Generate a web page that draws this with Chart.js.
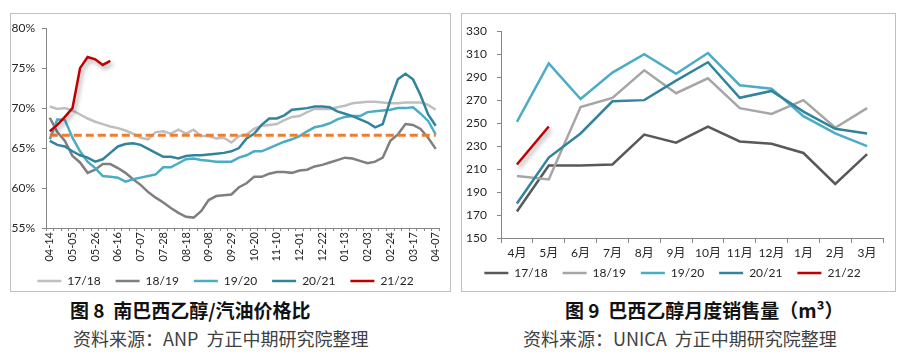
<!DOCTYPE html>
<html>
<head>
<meta charset="utf-8">
<script src="https://cdn.jsdelivr.net/npm/chart.js@4.4.1/dist/chart.umd.min.js"></script>
<style>
  body { margin: 0; background: #fff; width: 900px; height: 358px; position: relative; overflow: hidden; }
  .box { position: absolute; border: 1px solid #bfbfbf; box-sizing: border-box; }
  #boxL { left: 10px; top: 13px; width: 441px; height: 279px; }
  #boxR { left: 461px; top: 13px; width: 435px; height: 279px; }
  .box canvas { display: block; }
  .cap { position: absolute; font-family: 'Noto Sans CJK SC', sans-serif; font-weight: bold; font-size: 19px; line-height: 20px; color: #111; white-space: nowrap; }
  .src { position: absolute; font-family: 'Noto Sans CJK SC', sans-serif; font-size: 18px; line-height: 20px; color: #404040; white-space: nowrap; }
</style>
</head>
<body>
<div class="box" id="boxL"><canvas id="ratioChart" width="439" height="277"></canvas></div>
<div class="box" id="boxR"><canvas id="salesChart" width="433" height="277"></canvas></div>
<div class="cap" style="left:70px; top:300px;">图 8&nbsp; 南巴西乙醇/汽油价格比</div>
<div class="src" style="left:73px; top:328px;">资料来源：ANP&nbsp; 方正中期研究院整理</div>
<div class="cap" style="left:565px; top:300px;">图 9&nbsp; 巴西乙醇月度销售量（m³）</div>
<div class="src" style="left:523px; top:328px;">资料来源：UNICA&nbsp; 方正中期研究院整理</div>

<script>
// Weekly ethanol/gasoline price ratio, south Brazil (%)
const weeks = [
  '04-14','04-21','04-28','05-05','05-12','05-19','05-26','06-02','06-09','06-16','06-23','06-30','07-07',
  '07-14','07-21','07-28','08-04','08-11','08-18','08-25','09-01','09-08','09-15','09-22','09-29','10-06',
  '10-13','10-20','10-27','11-03','11-10','11-17','11-24','12-01','12-08','12-15','12-22','12-29','01-06',
  '01-13','01-20','01-27','02-03','02-10','02-17','02-24','03-03','03-10','03-17','03-24','03-31','04-07'
];
const ratio1718 = [
  70.2, 69.9, 70.0, 69.7, 69.2, 68.7, 68.3, 68.0, 67.7, 67.5, 67.2, 66.8, 66.3,
  66.1, 67.0, 67.1, 66.8, 67.3, 66.8, 67.3, 66.5, 66.5, 66.2, 66.3, 65.7, 66.5,
  66.7, 67.4, 67.8, 67.9, 68.0, 68.5, 68.9, 69.0, 69.5, 69.9, 69.9, 69.9, 70.1,
  70.3, 70.6, 70.7, 70.8, 70.8, 70.7, 70.6, 70.6, 70.7, 70.7, 70.7, 70.4, 69.8
];
const ratio1819 = [
  68.8, 67.0, 65.9, 64.0, 63.2, 61.9, 62.3, 63.0, 63.0, 62.5, 61.9, 61.1, 60.4,
  59.5, 58.8, 58.2, 57.5, 56.9, 56.4, 56.3, 57.1, 58.5, 59.0, 59.1, 59.2, 60.1,
  60.6, 61.4, 61.4, 61.8, 62.0, 62.0, 61.9, 62.2, 62.3, 62.7, 62.9, 63.2, 63.5,
  63.8, 63.7, 63.4, 63.1, 63.3, 63.8, 65.9, 66.7, 68.0, 67.9, 67.4, 66.3, 64.9
];
const ratio1920 = [
  66.1, 68.6, 68.5, 66.3, 64.6, 63.3, 62.5, 61.5, 61.4, 61.3, 60.8, 61.1, 61.3,
  61.5, 61.7, 62.6, 62.6, 63.1, 63.6, 63.7, 63.5, 63.4, 63.3, 63.3, 63.3, 63.8,
  64.1, 64.6, 64.6, 65.0, 65.4, 65.8, 66.1, 66.5, 67.1, 67.6, 67.8, 68.1, 68.6,
  68.9, 69.0, 69.0, 69.5, 69.6, 69.7, 69.8, 70.0, 70.0, 70.1, 69.3, 68.4, 66.7
];
const ratio2021 = [
  65.9, 65.4, 65.2, 64.6, 64.1, 63.8, 63.3, 63.6, 64.4, 65.2, 65.5, 65.6, 65.4,
  64.9, 64.4, 63.9, 63.9, 63.7, 64.0, 64.1, 64.1, 64.2, 64.3, 64.4, 64.6, 65.0,
  66.2, 66.8, 67.9, 68.7, 68.7, 69.1, 69.8, 69.9, 70.0, 70.2, 70.2, 70.1, 69.6,
  69.3, 69.0, 68.6, 68.2, 67.6, 68.0, 71.0, 73.6, 74.3, 73.6, 71.6, 69.2, 67.8
];
const ratio2122 = [67.1, 67.9, 68.9, 70.0, 75.0, 76.4, 76.1, 75.4, 75.9];
const parityLine = 66.6;

// Monthly ethanol sales (m³)
const months = ['4月','5月','6月','7月','8月','9月','10月','11月','12月','1月','2月','3月'];
const sales1718 = [173, 213, 213, 214, 240, 233, 247, 234, 232, 224, 197, 223];
const sales1819 = [204, 201, 264, 272, 296, 276, 289, 263, 258, 270, 246, 263];
const sales1920 = [251, 302, 271, 294, 310, 293, 311, 283, 280, 256, 241, 230];
const sales2021 = [180, 220, 241, 269, 270, 287, 303, 272, 278, 260, 245, 241];
const sales2122 = [214, 247];

Chart.defaults.font.family = "Lato, 'Noto Sans CJK SC', sans-serif";
Chart.defaults.font.size = 12;
Chart.defaults.color = '#262626';
Chart.defaults.animation = false;

// soft drop shadow under the current season line (Excel shadow effect)
const lineShadow = {
  id: 'lineShadow',
  beforeDatasetDraw(chart, args) {
    if (!chart.data.datasets[args.index].shadow) return;
    const ctx = chart.ctx;
    ctx.save();
    ctx.shadowColor = 'rgba(0,0,0,0.35)';
    ctx.shadowBlur = 4;
    ctx.shadowOffsetX = 2;
    ctx.shadowOffsetY = 3;
  },
  afterDatasetDraw(chart, args) {
    if (chart.data.datasets[args.index].shadow) chart.ctx.restore();
  }
};

function line(label, data, color, order, extra) {
  return Object.assign({
    label: label,
    data: data,
    borderColor: color,
    backgroundColor: color,
    borderWidth: 2.5,
    pointRadius: 0,
    tension: 0,
    order: order
  }, extra || {});
}

// fixed axis band height; labels may run past it, so don't clip them
function fixHeight(h) {
  return s => { s.height = h; s._computeLabelArea = () => undefined; };
}

const legendOpts = {
  position: 'bottom',
  labels: {
    usePointStyle: true,
    pointStyle: 'line',
    pointStyleWidth: 24,
    padding: 15,
    color: '#262626',
    font: { size: 12 },
    filter: item => item.text !== '',
    sort: (a, b) => a.datasetIndex - b.datasetIndex
  }
};

// Figure 8: price ratio
const ratioCtx = document.getElementById('ratioChart').getContext('2d');
const ratioChart = new Chart(ratioCtx, {
  type: 'line',
  data: {
    labels: weeks,
    datasets: [
      line('17/18', ratio1718, '#bfbfbf', 5),
      line('18/19', ratio1819, '#7f7f7f', 4),
      line('19/20', ratio1920, '#4bacc6', 3),
      line('20/21', ratio2021, '#31849b', 2),
      line('21/22', ratio2122, '#c00000', 0, { shadow: true }),
      line('', [{ x: weeks[0], y: parityLine }, { x: weeks[weeks.length - 1], y: parityLine }],
        '#ed7d31', 1, { borderWidth: 3, borderDash: [8, 4] })
    ]
  },
  options: {
    responsive: false,
    layout: { padding: { top: 12, right: 10, bottom: -6, left: 0 } },
    plugins: { legend: legendOpts, tooltip: { enabled: false } },
    scales: {
      x: {
        offset: true,
        grid: { display: true, drawOnChartArea: false, drawTicks: true, tickLength: 3, color: '#868686', offset: true },
        border: { display: true, color: '#868686' },
        ticks: {
          autoSkip: false, minRotation: 90, maxRotation: 90, padding: 1,
          font: { size: 11 }, color: '#262626',
          callback: function (val, idx) { return idx % 3 === 0 ? this.getLabelForValue(val) : ''; }
        },
        afterFit: fixHeight(32)
      },
      y: {
        min: 55, max: 80,
        grid: { display: true, drawOnChartArea: false, drawTicks: true, tickLength: 4, color: '#868686' },
        border: { display: true, color: '#868686' },
        ticks: { stepSize: 5, padding: 7, color: '#262626', callback: v => v + '%' },
        afterFit: s => { s.width = 35; }
      }
    }
  },
  plugins: [lineShadow]
});

// Figure 9: monthly sales
const salesCtx = document.getElementById('salesChart').getContext('2d');
const salesChart = new Chart(salesCtx, {
  type: 'line',
  data: {
    labels: months,
    datasets: [
      line('17/18', sales1718, '#595959', 4),
      line('18/19', sales1819, '#a6a6a6', 3),
      line('19/20', sales1920, '#4bacc6', 2),
      line('20/21', sales2021, '#31849b', 1),
      line('21/22', sales2122, '#c00000', 0, { shadow: true })
    ]
  },
  options: {
    responsive: false,
    layout: { padding: { top: 13, right: 12, bottom: 2, left: 0 } },
    plugins: { legend: legendOpts, tooltip: { enabled: false } },
    scales: {
      x: {
        offset: true,
        grid: { display: true, drawOnChartArea: false, drawTicks: true, tickLength: 5, color: '#868686', offset: true },
        border: { display: true, color: '#868686' },
        ticks: { autoSkip: false, maxRotation: 0, padding: 3, color: '#262626' },
        afterFit: fixHeight(14)
      },
      y: {
        min: 150, max: 330,
        grid: { display: true, drawOnChartArea: false, drawTicks: true, tickLength: 4, color: '#868686' },
        border: { display: true, color: '#868686' },
        ticks: { stepSize: 20, padding: 10, color: '#262626' },
        afterFit: s => { s.width = 39; }
      }
    }
  },
  plugins: [lineShadow]
});
</script>
</body>
</html>
